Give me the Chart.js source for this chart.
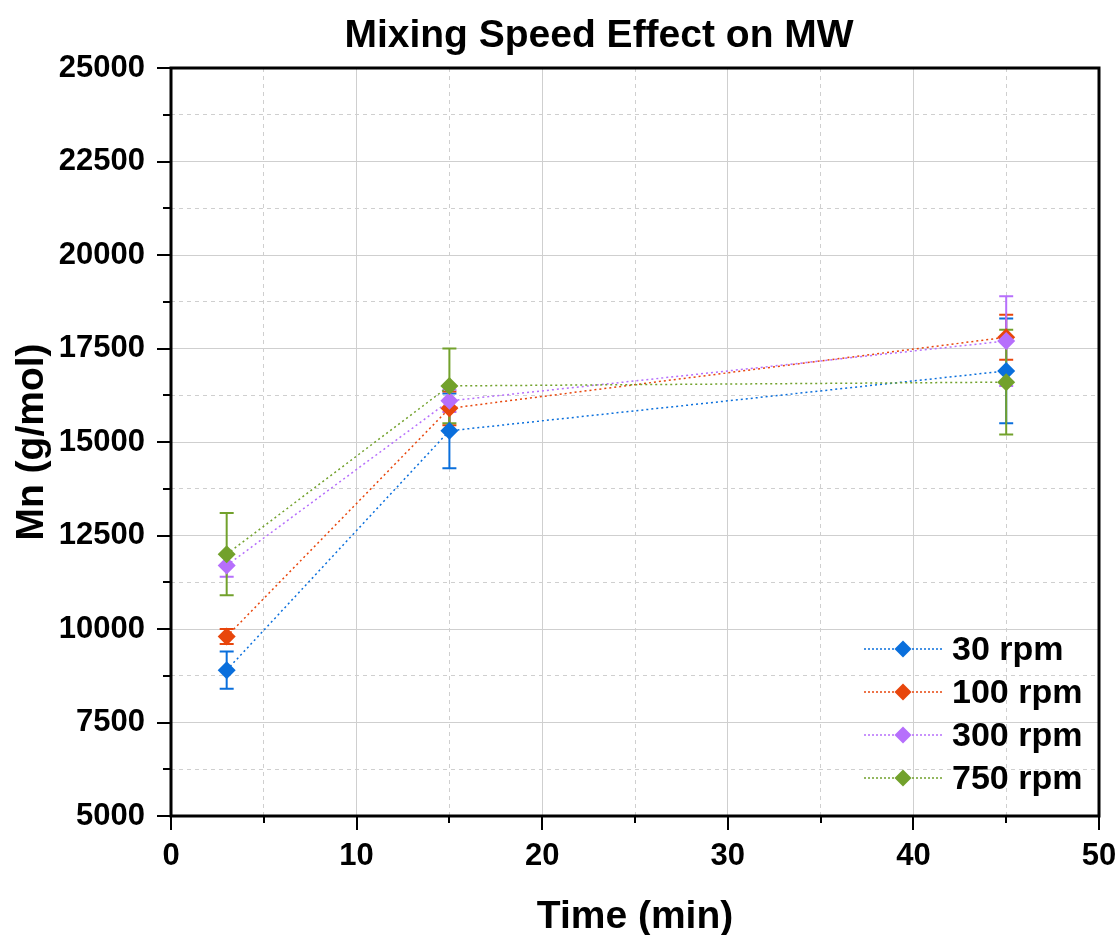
<!DOCTYPE html>
<html><head><meta charset="utf-8">
<script src="https://cdn.jsdelivr.net/npm/chart.js@4"></script>
<style>html,body{margin:0;padding:0;background:#fff}canvas{display:block}</style>
</head><body>
<canvas id="c" width="1119" height="935"></canvas>
<script>
const chartTitle = 'Mixing Speed Effect on MW';
const xTitle = 'Time (min)';
const yTitle = 'Mn (g/mol)';
const times = [3, 15, 45];
const seriesLabels = ['30 rpm', '100 rpm', '300 rpm', '750 rpm'];
const mn30 = [8900, 15300, 16900];
const err30 = [500, 1000, 1400];
const mn100 = [9800, 15900, 17800];
const err100 = [200, 450, 600];
const mn300 = [11700, 16100, 17700];
const err300 = [300, 300, 1200];
const mn750 = [12000, 16500, 16600];
const err750 = [1100, 1000, 1400];
const xTicksMajor = [0, 10, 20, 30, 40, 50];
const yTicksMajor = [5000, 7500, 10000, 12500, 15000, 17500, 20000, 22500, 25000];

const colors = ['#0a6fdc', '#e8460c', '#b66ffc', '#72a12c'];
const FONT = "'Liberation Sans', Arial, sans-serif";
const valueSets = [mn30, mn100, mn300, mn750];
const errSets = [err30, err100, err300, err750];

const datasets = valueSets.map((vals, i) => ({
  label: seriesLabels[i],
  data: times.map((t, j) => ({x: t, y: vals[j]})),
  borderColor: colors[i],
  backgroundColor: colors[i],
  borderWidth: 1.5,
  borderDash: [2, 3],
  pointStyle: 'rectRot',
  pointRadius: 9,
  pointHoverRadius: 9,
  pointBorderWidth: 0,
  pointBackgroundColor: colors[i],
  tension: 0,
  order: 3 - i
}));

const isMajorX = v => xTicksMajor.includes(v);
const isMajorY = v => yTicksMajor.includes(v);

const errorBars = {
  id: 'errorBars',
  beforeDatasetsDraw(chart) {
    const ctx = chart.ctx, ys = chart.scales.y;
    ctx.save();
    ctx.setLineDash([]);
    ctx.lineWidth = 2;
    errSets.forEach((errs, i) => {
      const meta = chart.getDatasetMeta(i);
      ctx.strokeStyle = colors[i];
      meta.data.forEach((pt, j) => {
        const v = valueSets[i][j];
        const yt = ys.getPixelForValue(v + errs[j]);
        const yb = ys.getPixelForValue(v - errs[j]);
        const x = pt.x;
        ctx.beginPath();
        ctx.moveTo(x, yt); ctx.lineTo(x, yb);
        ctx.moveTo(x - 7, yt); ctx.lineTo(x + 7, yt);
        ctx.moveTo(x - 7, yb); ctx.lineTo(x + 7, yb);
        ctx.stroke();
      });
    });
    ctx.restore();
  }
};

const frame = {
  id: 'frame',
  afterDraw(chart) {
    const ctx = chart.ctx, a = chart.chartArea;
    const xs = chart.scales.x, ys = chart.scales.y;
    ctx.save();
    ctx.setLineDash([]);
    ctx.strokeStyle = '#000';
    ctx.lineWidth = 2;
    ctx.beginPath();
    for (let v = 5000; v <= 25000; v += 1250) {
      const y = Math.round(ys.getPixelForValue(v));
      const len = isMajorY(v) ? 14 : 8;
      ctx.moveTo(a.left - len, y); ctx.lineTo(a.left, y);
    }
    for (let v = 0; v <= 50; v += 5) {
      const x = Math.round(xs.getPixelForValue(v));
      const len = isMajorX(v) ? 14 : 7;
      ctx.moveTo(x, a.bottom); ctx.lineTo(x, a.bottom + len);
    }
    ctx.stroke();
    ctx.lineWidth = 3;
    ctx.strokeRect(a.left, a.top, a.right - a.left, a.bottom - a.top);
    // title
    ctx.fillStyle = '#000';
    ctx.font = 'bold 39px ' + FONT;
    ctx.textAlign = 'center';
    ctx.textBaseline = 'alphabetic';
    ctx.fillText(chartTitle, 599, 47);
    // legend
    ctx.font = 'bold 34px ' + FONT;
    ctx.textAlign = 'left';
    ctx.textBaseline = 'middle';
    seriesLabels.forEach((lab, i) => {
      const y = a.top + 581 + i * 43;
      const x0 = a.right - 235;
      ctx.save();
      ctx.strokeStyle = colors[i];
      ctx.lineWidth = 1.5;
      ctx.setLineDash([2, 2]);
      ctx.beginPath();
      ctx.moveTo(x0, y); ctx.lineTo(x0 + 78, y);
      ctx.stroke();
      ctx.setLineDash([]);
      ctx.fillStyle = colors[i];
      const cx = x0 + 39, r = 8.5;
      ctx.beginPath();
      ctx.moveTo(cx, y - r); ctx.lineTo(cx + r, y); ctx.lineTo(cx, y + r); ctx.lineTo(cx - r, y);
      ctx.closePath(); ctx.fill();
      ctx.restore();
      ctx.fillStyle = '#000';
      ctx.fillText(lab, x0 + 88, y + 2);
    });
    ctx.restore();
  }
};

new Chart(document.getElementById('c'), {
  type: 'line',
  data: {datasets},
  plugins: [errorBars, frame],
  options: {
    responsive: false,
    animation: false,
    events: [],
    layout: {padding: {top: 68, right: 20, left: 0, bottom: 0}},
    plugins: {legend: {display: false}, title: {display: false}, tooltip: {enabled: false}},
    scales: {
      x: {
        type: 'linear', min: 0, max: 50,
        afterFit: s => { s.height = 119; s.paddingRight = 0; s.paddingLeft = 0; },
        ticks: {
          stepSize: 5, autoSkip: false, maxRotation: 0, padding: 8, color: '#000',
          font: {family: FONT, size: 31, weight: 'bold'},
          callback: v => isMajorX(v) ? String(v) : ''
        },
        grid: {
          color: '#cfcfcf', lineWidth: 1, drawTicks: true, tickLength: 14, tickColor: 'rgba(0,0,0,0)'
        },
        border: {display: false, dash: c => (c.tick && !isMajorX(c.tick.value)) ? [4, 4] : []},
        title: {display: true, text: xTitle, color: '#000', padding: {top: 0, bottom: 0},
          font: {family: FONT, size: 39, weight: 'bold', lineHeight: 0.9}}
      },
      y: {
        type: 'linear', min: 5000, max: 25000,
        afterFit: s => { s.width = 171; s.paddingTop = 0; s.paddingBottom = 0; },
        ticks: {
          stepSize: 1250, autoSkip: false, padding: 12, color: '#000',
          font: {family: FONT, size: 31, weight: 'bold'},
          callback: v => isMajorY(v) ? String(v) : ''
        },
        grid: {
          color: '#cfcfcf', lineWidth: 1, drawTicks: true, tickLength: 14, tickColor: 'rgba(0,0,0,0)'
        },
        border: {display: false, dash: c => (c.tick && !isMajorY(c.tick.value)) ? [4, 4] : []},
        title: {display: true, text: yTitle, color: '#000', padding: {top: 15, bottom: 15},
          font: {family: FONT, size: 39, weight: 'bold', lineHeight: 0.9}}
      }
    }
  }
});
</script>
</body></html>
